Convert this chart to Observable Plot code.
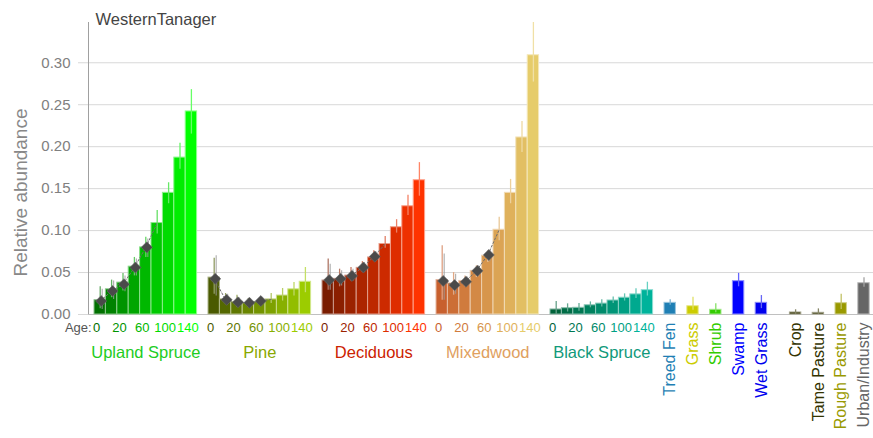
<!DOCTYPE html>
<html>
<head>
<meta charset="utf-8">
<script src="https://cdn.jsdelivr.net/npm/d3@7"></script>
<script src="https://cdn.jsdelivr.net/npm/@observablehq/plot@0.6"></script>
<style>
  html, body { margin: 0; padding: 0; background: #fff; }
  #chart svg { display: block; }
</style>
</head>
<body>
<div id="chart"></div>
<script>
// ---------- data ----------
const title = "WesternTanager";
const yLabel = "Relative abundance";
const ageWord = "Age:";
const yTicks = [0, 0.05, 0.10, 0.15, 0.20, 0.25, 0.30];
const ageClasses = [0, 10, 20, 40, 60, 80, 100, 120, 140];
const ageTickAges = [0, 20, 60, 100, 140];

const forestTypes = ["Upland Spruce", "Pine", "Deciduous", "Mixedwood", "Black Spruce"];

const uplandSpruceMean = [0.017, 0.030, 0.038, 0.057, 0.080, 0.109, 0.145, 0.187, 0.242];
const uplandSpruceLo   = [0.007, 0.020, 0.028, 0.046, 0.068, 0.096, 0.132, 0.173, 0.215];
const uplandSpruceHi   = [0.033, 0.041, 0.049, 0.068, 0.092, 0.124, 0.157, 0.204, 0.268];

const pineMean = [0.044, 0.018, 0.015, 0.0135, 0.015, 0.018, 0.0226, 0.030, 0.039];
const pineLo   = [0.024, 0.013, 0.009, 0.009, 0.011, 0.013, 0.016, 0.022, 0.026];
const pineHi   = [0.067, 0.025, 0.023, 0.019, 0.019, 0.025, 0.031, 0.038, 0.056];

const deciduousMean = [0.0405, 0.0425, 0.0464, 0.0556, 0.068, 0.084, 0.104, 0.129, 0.160];
const deciduousLo   = [0.029, 0.033, 0.040, 0.050, 0.064, 0.079, 0.097, 0.118, 0.141];
const deciduousHi   = [0.066, 0.054, 0.056, 0.063, 0.076, 0.093, 0.113, 0.142, 0.181];

const mixedwoodMean = [0.041, 0.037, 0.040, 0.052, 0.070, 0.101, 0.145, 0.211, 0.309];
const mixedwoodLo   = [0.017, 0.023, 0.033, 0.044, 0.062, 0.088, 0.132, 0.193, 0.277];
const mixedwoodHi   = [0.082, 0.050, 0.046, 0.058, 0.076, 0.116, 0.161, 0.230, 0.348];

const blackSpruceMean = [0.006, 0.0075, 0.008, 0.011, 0.013, 0.0167, 0.020, 0.024, 0.029];
const blackSpruceLo   = [0.000, 0.003, 0.004, 0.008, 0.009, 0.013, 0.016, 0.019, 0.022];
const blackSpruceHi   = [0.0155, 0.0127, 0.013, 0.015, 0.0175, 0.021, 0.0246, 0.0306, 0.0385];

// young-stand estimates (diamonds), first five age classes
const uplandSpruceYoung   = [0.016, 0.028, 0.036, 0.056, 0.080];
const uplandSpruceYoungLo = [0.006, 0.018, 0.027, 0.046, 0.068];
const uplandSpruceYoungHi = [0.030, 0.040, 0.046, 0.066, 0.090];
const pineYoung   = [0.0425, 0.0175, 0.0146, 0.014, 0.016];
const pineYoungLo = [0.022, 0.012, 0.010, 0.010, 0.012];
const pineYoungHi = [0.070, 0.024, 0.020, 0.019, 0.020];
const deciduousYoung   = [0.041, 0.0425, 0.046, 0.056, 0.069];
const deciduousYoungLo = [0.029, 0.034, 0.040, 0.050, 0.064];
const deciduousYoungHi = [0.060, 0.052, 0.054, 0.062, 0.075];
const mixedwoodYoung   = [0.040, 0.035, 0.039, 0.052, 0.071];
const mixedwoodYoungLo = [0.017, 0.024, 0.034, 0.045, 0.063];
const mixedwoodYoungHi = [0.072, 0.048, 0.045, 0.058, 0.076];

const otherTypes = ["Treed Fen", "Grass", "Shrub", "Swamp", "Wet Grass", "Crop", "Tame Pasture", "Rough Pasture", "Urban/Industry"];
const otherMean = [0.0139, 0.0099, 0.0056, 0.0397, 0.0139, 0.0024, 0.0020, 0.0135, 0.0373];
const otherLo   = [0.011, 0.005, 0.002, 0.033, 0.007, 0.000, 0.000, 0.006, 0.0325];
const otherHi   = [0.0175, 0.0206, 0.0127, 0.049, 0.0226, 0.0056, 0.0067, 0.024, 0.0437];

// ---------- styles ----------
const forestColorRanges = [
  ["#007000", "#00ff00"],
  ["#4a5a00", "#9ccc00"],
  ["#7a1c00", "#ff3300"],
  ["#c8602e", "#e6cc6a"],
  ["#00633a", "#00b39b"]
];
const forestLabelColors = ["#22cc22", "#88a800", "#cc2200", "#e0a060", "#11997a"];
const otherColors = ["#1f7fb4", "#cccc00", "#33cc00", "#0000ff", "#0000ee", "#333300", "#333300", "#999900", "#666666"];

// ---------- table building ----------
const forestMeans = [uplandSpruceMean, pineMean, deciduousMean, mixedwoodMean, blackSpruceMean];
const forestLos = [uplandSpruceLo, pineLo, deciduousLo, mixedwoodLo, blackSpruceLo];
const forestHis = [uplandSpruceHi, pineHi, deciduousHi, mixedwoodHi, blackSpruceHi];
const youngMeans = [uplandSpruceYoung, pineYoung, deciduousYoung, mixedwoodYoung, null];
const youngLos = [uplandSpruceYoungLo, pineYoungLo, deciduousYoungLo, mixedwoodYoungLo, null];
const youngHis = [uplandSpruceYoungHi, pineYoungHi, deciduousYoungHi, mixedwoodYoungHi, null];

const nAge = ageClasses.length;
const groupStride = nAge + 1;
const tint = (c, t) => d3.interpolateRgb(c, "#ffffff")(t);

const bars = [];
const diamonds = [];
const dashed = [];
const ageTicks = [];
const groupLabels = [];

forestTypes.forEach((ft, g) => {
  const base = g * groupStride;
  const [c0, c1] = forestColorRanges[g];
  ageClasses.forEach((age, i) => {
    const color = d3.interpolateRgb(c0, c1)(i / (nAge - 1));
    const slot = base + i;
    bars.push({type: ft, age, slot, v: forestMeans[g][i], lo: forestLos[g][i], hi: forestHis[g][i], color});
    if (ageTickAges.includes(age)) ageTicks.push({slot, text: String(age), color});
  });
  groupLabels.push({slot: base + (nAge - 1) / 2, text: ft, color: forestLabelColors[g]});
  if (youngMeans[g]) {
    youngMeans[g].forEach((v, i) => {
      diamonds.push({type: ft, slot: base + i, v, lo: youngLos[g][i], hi: youngHis[g][i]});
      dashed.push({type: ft, slot: base + i, v});
    });
    const k = youngMeans[g].length;
    dashed.push({type: ft, slot: base + k, v: forestMeans[g][k]});
  }
});

const othersStart = forestTypes.length * groupStride;
const otherBreakAfter = 4; // natural vs. human-made covers
const otherLabels = [];
otherTypes.forEach((t, j) => {
  const slot = othersStart + j * 2 + (j > otherBreakAfter ? 1 : 0);
  bars.push({type: t, age: null, slot, v: otherMean[j], lo: otherLo[j], hi: otherHi[j], color: otherColors[j]});
  otherLabels.push({slot, text: t, color: otherColors[j]});
});

// ---------- layout ----------
const slotPx = 11.4;
const marginLeft = 88, width = 873;
const xMin = -6 / slotPx;
const xMax = xMin + (width - marginLeft) / slotPx;
const font = "'Liberation Sans', Arial, sans-serif";

const chart = Plot.plot({
  width: width,
  height: 438,
  marginLeft: marginLeft,
  marginRight: 0,
  marginTop: 22,
  marginBottom: 124,
  x: {type: "linear", domain: [xMin, xMax], axis: null},
  y: {domain: [0, 0.348], axis: null},
  style: {fontFamily: font, background: "#fff", overflow: "visible"},
  marks: [
    Plot.gridY(yTicks.slice(1), {stroke: "#d8d8d8", strokeOpacity: 1}),
    Plot.axisY(yTicks, {
      tickSize: 10, tickPadding: 8, tickFormat: ".2f",
      stroke: "#d8d8d8", fill: "#808080", fontSize: 15
    }),
    Plot.ruleY([0], {stroke: "#c0c0c0"}),
    Plot.ruleX([xMin], {stroke: "#a0a0a0"}),
    Plot.rectY(bars, {
      x1: d => d.slot, x2: d => d.slot + 1, y: "v",
      fill: "color", stroke: d => tint(d.color, 0.55), strokeWidth: 1
    }),
    Plot.ruleX(bars, {
      x: d => d.slot + 0.5, y1: "lo", y2: "hi",
      stroke: d => tint(d.color, 0.4), strokeWidth: 1.3
    }),
    Plot.ruleX(diamonds, {
      x: d => d.slot + 0.5, y1: "lo", y2: "hi", dx: 2,
      stroke: "#9a9a9a", strokeOpacity: 0.75, strokeWidth: 1.2
    }),
    Plot.line(dashed, {
      x: d => d.slot + 0.5, y: "v", z: "type",
      stroke: "#707070", strokeWidth: 1, strokeDasharray: "2,2"
    }),
    Plot.dot(diamonds, {
      x: d => d.slot + 0.5, y: "v", dx: 1, symbol: "diamond2", r: 5,
      fill: "#4a4a4a", stroke: "#6a6a6a", strokeWidth: 0.6
    }),
    // title
    Plot.text([title], {
      frameAnchor: "top-left", dx: 7, dy: -9, textAnchor: "start",
      fontSize: 16.5, fill: "#444"
    }),
    // y label
    Plot.text([yLabel], {
      frameAnchor: "left", textAnchor: "middle", rotate: -90, dx: -68, dy: 24,
      fontSize: 19, fill: "#888"
    }),
    // Age word
    Plot.text([ageWord], {
      x: () => 0.5, y: () => 0, dx: -8.5, dy: 13, textAnchor: "end",
      fontSize: 13, fill: "#555"
    }),
    // age tick labels
    Plot.text(ageTicks, {
      x: d => d.slot + 0.5, y: () => 0, dx: -3.5, dy: 13, text: "text",
      fill: "color", fontSize: 13
    }),
    // group labels
    Plot.text(groupLabels, {
      x: d => d.slot + 0.5, y: () => 0, dy: 38, text: "text",
      fill: "color", fontSize: 16.5
    }),
    // rotated other-cover labels
    Plot.text(otherLabels, {
      x: d => d.slot + 0.5, y: () => 0, dy: 8, text: "text",
      rotate: -90, textAnchor: "end", fill: "color", fontSize: 16
    })
  ]
});

document.getElementById("chart").appendChild(chart);
</script>
</body>
</html>
